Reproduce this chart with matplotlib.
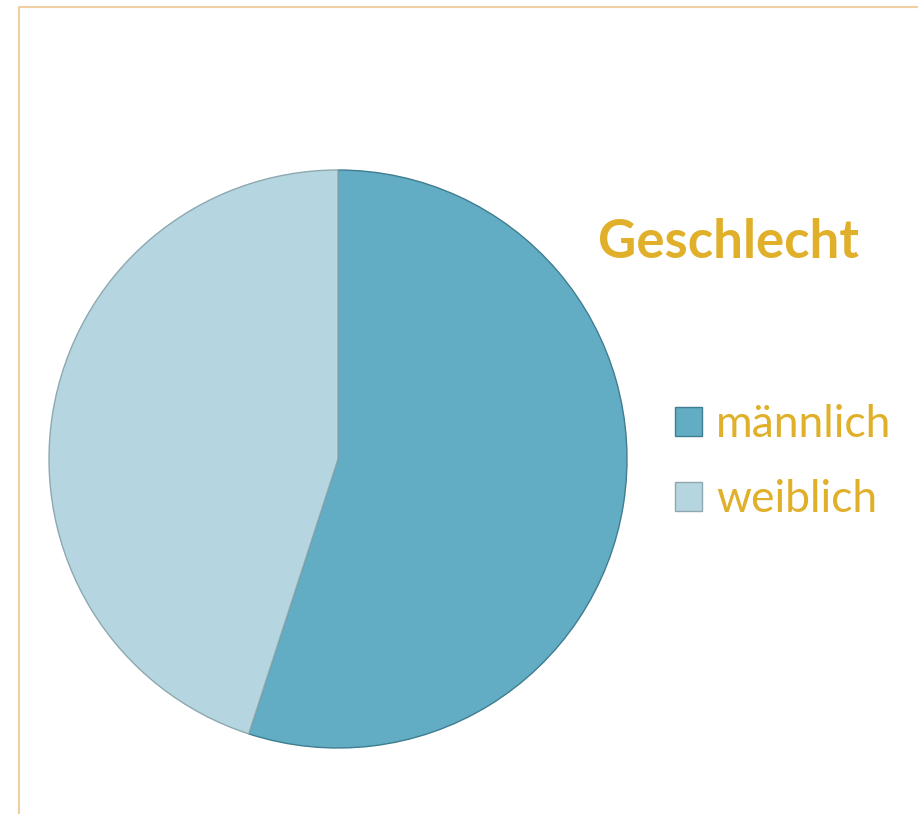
import matplotlib
matplotlib.use("Agg")
import matplotlib.pyplot as plt
from matplotlib.lines import Line2D

categories = ["männlich", "weiblich"]
values = [55, 45]
colors = ["#62adc3", "#b5d6e0"]
edges = ["#3f7d90", "#8fa8b0"]
title = "Geschlecht"
gold = "#e0b02a"

W, H = 918, 814
fig = plt.figure(figsize=(W / 100, H / 100), dpi=100)
ax = fig.add_axes([0, 0, 1, 1])

wedges, _ = ax.pie(values, colors=colors, startangle=90, counterclock=False,
                   center=(338, H - 459), radius=289, frame=True,
                   wedgeprops=dict(linewidth=1.0))
for w, e in zip(wedges, edges):
    w.set_edgecolor(e)
ax.set_xlim(0, W)
ax.set_ylim(0, H)
ax.set_aspect("equal")
ax.axis("off")

# frame border
border = "#efd0a4"
fig.add_artist(Line2D([19 / W, 19 / W, 1.0], [0, 1 - 7 / H, 1 - 7 / H],
                      transform=fig.transFigure, color=border, linewidth=1.5))

fig.text(729 / W, 1 - 243 / H, title, fontsize=38, fontweight="bold",
         color=gold, family="Lato", ha="center", va="center")

leg = ax.legend(wedges, categories, loc="upper left",
                bbox_to_anchor=(675 / W, 1 - 404 / H), bbox_transform=fig.transFigure,
                frameon=False, prop=dict(family="Lato", size=32),
                handlelength=0.61, handleheight=0.61, handletextpad=0.32,
                labelspacing=0.77, borderpad=0, borderaxespad=0)
for t in leg.get_texts():
    t.set_color(gold)

fig.savefig("out.png", dpi=100)
